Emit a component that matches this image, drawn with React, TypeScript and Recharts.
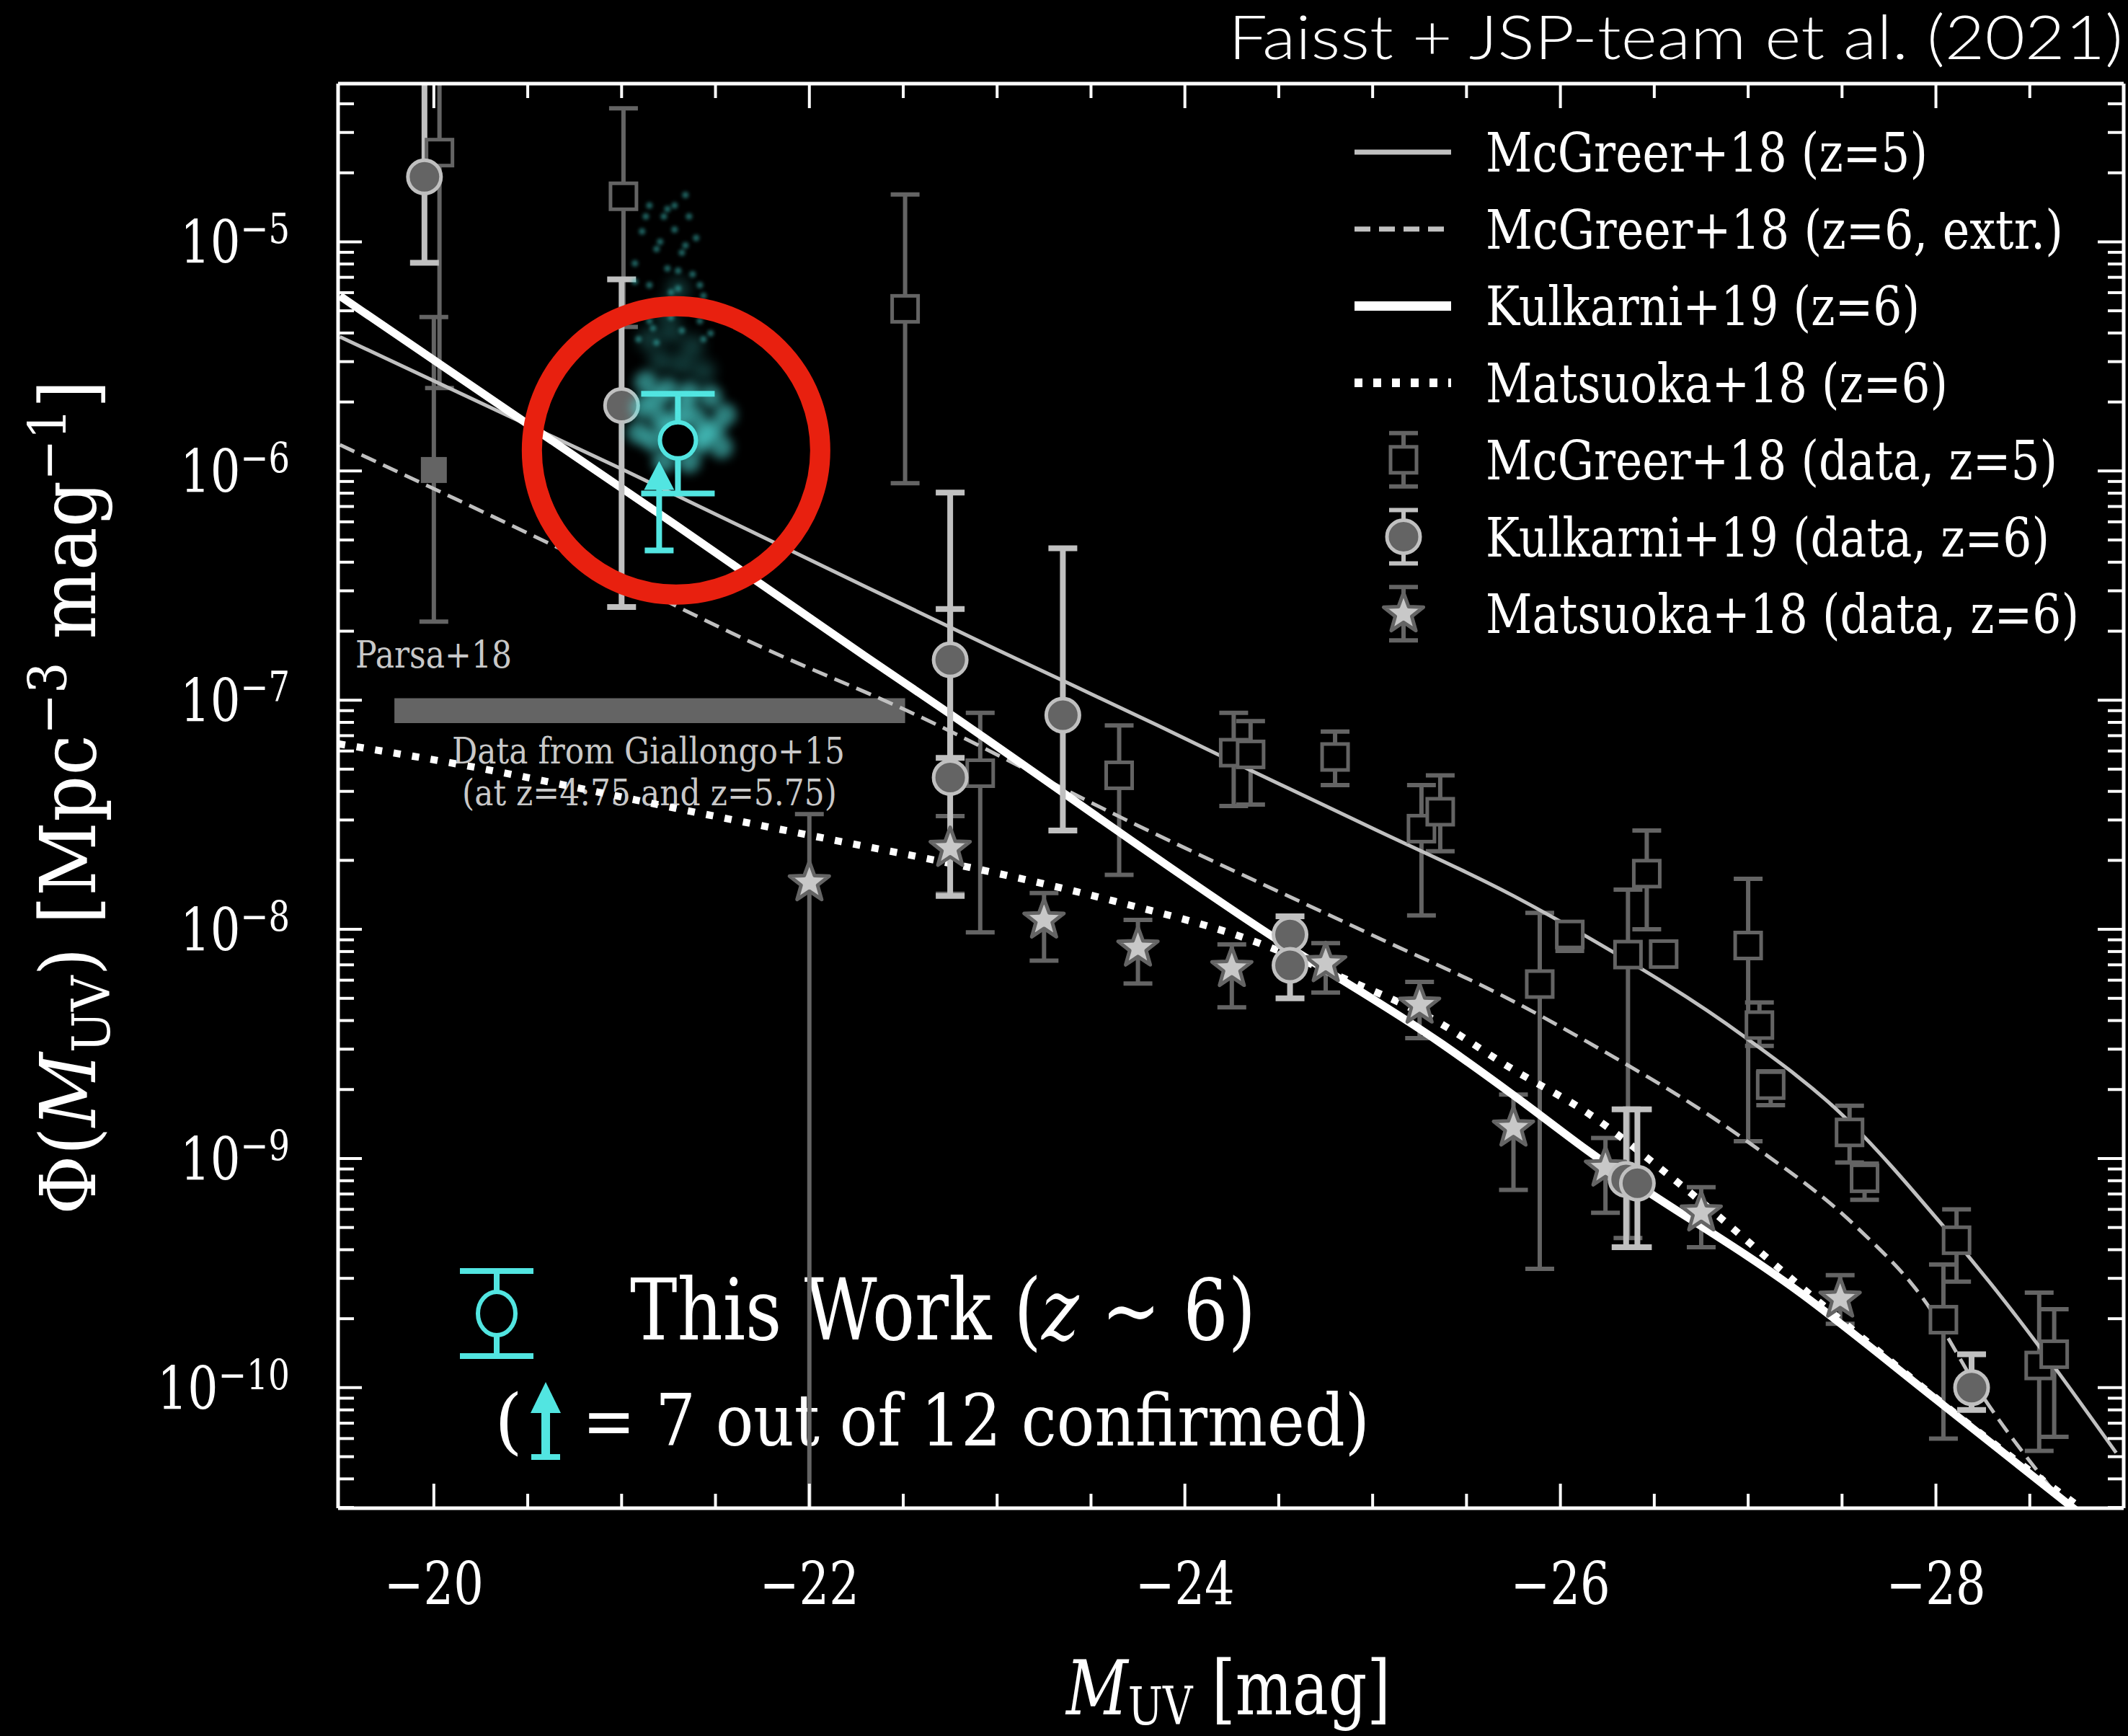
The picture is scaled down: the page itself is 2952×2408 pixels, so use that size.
import React from 'react';
import {
  ComposedChart,
  Line,
  Scatter,
  XAxis,
  YAxis,
  ErrorBar,
  ReferenceArea,
  ReferenceDot,
  Customized,
} from 'recharts';

const W = 2952;
const H = 2408;
const SERIF = "'DejaVu Serif', serif";

const DARK = '#646464';
const LIGHT = '#c0c0c0';
const STAR_FILL = '#c8c8c8';
const CYAN = '#52e5e1';
const SPECK = '#3cbcb8';
const RED = '#e8200f';

// plot box in page pixels (used for the error-bar clip and axis boxes)
const PLOT = { left: 469, top: 116, right: 2946, bottom: 2092 };

const X_DOMAIN: [number, number] = [-29, -19.49];
const Y_DOMAIN: [number, number] = [2.98e-11, 4.9e-5];

const xMajorTicks = [-20, -22, -24, -26, -28];
const yMajorTicks = [1e-10, 1e-9, 1e-8, 1e-7, 1e-6, 1e-5];

// minor ticks every 0.5 mag and at 2..9 inside each decade
const xTicks: number[] = [];
for (let v = -20; v >= -28.5; v -= 0.5) xTicks.push(v);
const yTicks: number[] = [];
for (let e = -11; e <= -5; e++) {
  for (let k = 1; k <= 9; k++) {
    const v = k * Math.pow(10, e);
    if (v >= Y_DOMAIN[0] && v <= Y_DOMAIN[1]) yTicks.push(v);
  }
}

// ---- model luminosity functions ----
const mcgreerZ5M = [-19.5, -21.0, -22.1, -23.0, -23.85, -24.36, -25.0, -25.75, -26.14, -26.98, -27.48, -28.04, -28.33, -28.96];
const mcgreerZ5Phi = [3.85e-6, 1.02e-6, 3.75e-7, 1.66e-7, 7.8e-8, 4.9e-8, 2.76e-8, 1.4e-8, 9.3e-9, 3.4e-9, 1.61e-9, 5.06e-10, 2.6e-10, 5.2e-11];

const mcgreerZ6M = [-19.5, -20.61, -21.77, -22.52, -23.67, -24.99, -25.75, -26.14, -27.0, -27.58, -27.93, -28.26, -28.63];
const mcgreerZ6Phi = [1.3e-6, 4.85e-7, 1.67e-7, 9.0e-8, 3.05e-8, 9.5e-9, 4.85e-9, 3.24e-9, 1.18e-9, 5.0e-10, 2.46e-10, 8.9e-11, 3.5e-11];

const kulkarniM = [-19.5, -21.29, -22.3, -22.69, -24.45, -25.37, -25.75, -26.14, -27.29, -28.0, -28.75];
const kulkarniPhi = [5.8e-6, 5.8e-7, 1.55e-7, 9.4e-8, 9.5e-9, 3.16e-9, 1.89e-9, 1.09e-9, 2.55e-10, 8.9e-11, 2.9e-11];

const matsuokaM = [-19.49, -20.05, -21.46, -22.3, -22.61, -23.62, -24.33, -24.87, -25.31, -25.75, -26.14, -26.59, -27.33, -28.4, -28.82];
const matsuokaPhi = [6.45e-8, 5.4e-8, 3.16e-8, 2.3e-8, 2.05e-8, 1.33e-8, 9.1e-9, 6.0e-9, 4.1e-9, 2.44e-9, 1.59e-9, 8.3e-10, 2.55e-10, 5.0e-11, 2.8e-11];

// ---- binned data (value, lower and upper end of the error bar) ----
const mcgreerDataM = [-20.03, -21.01, -22.51, -22.91, -23.65, -24.26, -24.35, -24.8, -25.26, -25.36, -25.89, -26.05, -26.36, -26.46, -26.55, -27.0, -27.06, -27.12, -27.54, -27.62, -28.11, -28.04, -28.55, -28.63];
const mcgreerDataPhi = [2.45e-5, 1.58e-5, 5.1e-6, 4.8e-8, 4.7e-8, 5.9e-8, 5.8e-8, 5.65e-8, 2.75e-8, 3.26e-8, 5.77e-9, 9.5e-9, 7.76e-9, 1.75e-8, 7.8e-9, 8.5e-9, 3.82e-9, 2.09e-9, 1.3e-9, 8.2e-10, 4.4e-10, 1.98e-10, 1.25e-10, 1.4e-10];
const mcgreerDataLo = [2.3e-6, 4.25e-6, 8.85e-7, 9.7e-9, 1.73e-8, 3.45e-8, 3.5e-8, 4.26e-8, 1.15e-8, 2.19e-8, 3.3e-10, 8.05e-9, 4.5e-10, 1.0e-8, 7.0e-9, 1.19e-9, 3.1e-9, 1.71e-9, 9.6e-10, 6.6e-10, 2.9e-10, 6.0e-11, 5.3e-11, 6.1e-11];
const mcgreerDataHi = [1e-4, 3.82e-5, 1.61e-5, 8.8e-8, 7.76e-8, 8.8e-8, 8.1e-8, 7.3e-8, 4.26e-8, 4.7e-8, 1.18e-8, 1.05e-8, 1.49e-8, 2.7e-8, 8.8e-9, 1.66e-8, 4.8e-9, 2.4e-9, 1.7e-9, 9.5e-10, 6.0e-10, 3.45e-10, 2.6e-10, 2.2e-10];

const giallongoM = [-20.0];
const giallongoPhi = [1.01e-6];
const giallongoLo = [2.2e-7];
const giallongoHi = [4.7e-6];

const kulkarniDataM = [-19.95, -21.0, -22.75, -22.75, -23.35, -24.56, -24.56, -26.35, -26.41, -28.19];
const kulkarniDataPhi = [1.92e-5, 1.93e-6, 1.5e-7, 4.6e-8, 8.6e-8, 9.5e-9, 6.97e-9, 8.1e-10, 7.8e-10, 1.0e-10];
const kulkarniDataLo = [8.1e-6, 2.55e-7, 5.6e-8, 1.4e-8, 2.7e-8, 7.5e-9, 5.0e-9, 4.1e-10, 4.1e-10, 8e-11];
const kulkarniDataHi = [1e-4, 6.86e-6, 8.05e-7, 2.5e-7, 4.6e-7, 1.14e-8, 9.0e-9, 1.64e-9, 1.64e-9, 1.4e-10];

const matsuokaDataM = [-22.0, -22.75, -23.25, -23.75, -24.25, -24.75, -25.25, -25.75, -26.24, -26.75, -27.49];
const matsuokaDataPhi = [1.6e-8, 2.26e-8, 1.1e-8, 8.3e-9, 6.76e-9, 7.1e-9, 4.68e-9, 1.36e-9, 9.1e-10, 5.8e-10, 2.44e-10];
const matsuokaDataLo = [1e-12, 1.43e-8, 7.3e-9, 5.8e-9, 4.57e-9, 5.3e-9, 3.35e-9, 7.3e-10, 5.8e-10, 4.1e-10, 1.9e-10];
const matsuokaDataHi = [3.18e-8, 3.12e-8, 1.44e-8, 1.1e-8, 8.6e-9, 8.7e-9, 5.9e-9, 1.9e-9, 1.23e-9, 7.5e-10, 3.1e-10];

// this work
const thisWorkM = [-21.3];
const thisWorkPhi = [1.36e-6];
const thisWorkLo = [7.98e-7];
const thisWorkHi = [2.17e-6];
const limitM = [-21.2];
const limitPhi = [4.5e-7];

// posterior samples around this work's bin: sparse plume, faint haze, dense core
const cloudSpeckM = [
  -21.148, -21.244, -21.359, -21.109, -21.282, -21.397, -21.186, -21.321, -21.071, -21.244, -21.378, -21.148,
  -21.301, -21.436, -21.205, -21.359, -21.109, -21.263, -21.417, -21.167, -21.321, -21.474, -21.225, -21.34,
  -21.129, -21.282, -21.205, -21.34, -21.071, -21.263, -21.378, -21.148, -21.301, -21.417, -21.186, -21.436, -21.09,
];
const cloudSpeckPhi = [
  1.44e-5, 1.39e-5, 1.29e-5, 1.11e-5, 1.13e-5, 1.04e-5, 9.3e-6, 8.97e-6, 8.05e-6, 7.65e-6, 7.22e-6, 6.47e-6,
  6.25e-6, 5.81e-6, 5.41e-6, 5.21e-6, 4.85e-6, 4.68e-6, 4.51e-6, 4.2e-6, 4.1e-6, 3.99e-6, 1.29e-5, 1.6e-5,
  1.29e-5, 1.44e-5, 1.0e-5, 9.64e-6, 6.71e-6, 6.02e-6, 5.03e-6, 4.51e-6, 7.48e-6, 6.47e-6, 3.63e-6, 3.76e-6, 3.76e-6,
];
const cloudHazeM = [-21.148, -21.263, -21.378, -21.205, -21.32, -21.436, -21.24, -21.3];
const cloudHazePhi = [3.76e-6, 4.04e-6, 3.5e-6, 3.03e-6, 2.92e-6, 2.72e-6, 5.0e-6, 6.2e-6];
const cloudCoreM = [-21.129, -21.244, -21.359, -21.474, -21.551, -21.11, -21.205, -21.3, -21.397, -21.493, -21.167, -21.282, -21.417, -21.532, -21.225, -21.359, -21.09, -21.25, -21.44, -21.33, -21.18];
const cloudCorePhi = [2.44e-6, 2.27e-6, 2.19e-6, 2.11e-6, 1.76e-6, 1.89e-6, 1.7e-6, 1.64e-6, 1.7e-6, 1.52e-6, 1.36e-6, 1.32e-6, 1.32e-6, 1.27e-6, 1.1e-6, 1.1e-6, 1.47e-6, 1.5e-6, 1.45e-6, 1.9e-6, 2.05e-6];

// Parsa+18 band and highlighted bin
const parsaM = [-19.79, -22.51];
const parsaPhi = [7.94e-8, 1.02e-7];
const ringM = -21.29;
const ringPhi = 1.23e-6;

const legendLabels = [
  'McGreer+18 (z=5)',
  'McGreer+18 (z=6, extr.)',
  'Kulkarni+19 (z=6)',
  'Matsuoka+18 (z=6)',
  'McGreer+18 (data, z=5)',
  'Kulkarni+19 (data, z=6)',
  'Matsuoka+18 (data, z=6)',
];
const legendTextWidths = [613, 801, 602, 641, 793, 782, 823];

const toRows = (m: number[], phi: number[]) => m.map((v, i) => ({ m: v, phi: phi[i] }));
const toErrRows = (m: number[], phi: number[], lo: number[], hi: number[]) =>
  m.map((v, i) => ({ m: v, phi: phi[i], err: [phi[i] - lo[i], hi[i] - phi[i]] }));

const starPoints = (cx: number, cy: number, R: number, r: number) => {
  const pts: string[] = [];
  for (let i = 0; i < 10; i++) {
    const rad = i % 2 === 0 ? R : r;
    const a = -Math.PI / 2 + (i * Math.PI) / 5;
    pts.push(`${cx + rad * Math.cos(a)},${cy + rad * Math.sin(a)}`);
  }
  return pts.join(' ');
};

const OpenSquare = ({ cx, cy }: any) => (
  <rect x={cx - 18} y={cy - 18} width={36} height={36} fill="#000" stroke={DARK} strokeWidth={5} />
);
const FilledSquare = ({ cx, cy }: any) => <rect x={cx - 18} y={cy - 18} width={36} height={36} fill={DARK} />;
const GrayCircle = ({ cx, cy }: any) => <circle cx={cx} cy={cy} r={23} fill={DARK} stroke={LIGHT} strokeWidth={5} />;
const Star = ({ cx, cy }: any) => (
  <polygon points={starPoints(cx, cy, 29, 12)} fill={STAR_FILL} stroke={DARK} strokeWidth={5} strokeLinejoin="round" />
);
const OpenCyan = ({ cx, cy }: any) => <circle cx={cx} cy={cy} r={25} fill="#000" stroke={CYAN} strokeWidth={6} />;
const UpArrow = ({ cx, cy }: any) => (
  <g fill={CYAN} stroke={CYAN}>
    <line x1={cx - 20} x2={cx + 20} y1={cy} y2={cy} strokeWidth={8} />
    <line x1={cx} x2={cx} y1={cy} y2={cy - 86} strokeWidth={8} />
    <polygon points={`${cx - 21},${cy - 84} ${cx + 21},${cy - 84} ${cx},${cy - 124}`} stroke="none" />
  </g>
);
const CloudSpeck = ({ cx, cy }: any) => (
  <circle cx={cx} cy={cy} r={4.5} fill={SPECK} opacity={0.55} style={{ filter: 'blur(2.5px)' }} />
);
const CloudHaze = ({ cx, cy }: any) => (
  <circle cx={cx} cy={cy} r={16} fill={SPECK} opacity={0.3} style={{ filter: 'blur(9px)' }} />
);
const CloudBlob = ({ cx, cy }: any) => (
  <circle cx={cx} cy={cy} r={16} fill={CYAN} opacity={0.55} style={{ filter: 'blur(7px)' }} />
);

const isMajorY = (v: number) => Math.abs(Math.log10(v) - Math.round(Math.log10(v))) < 1e-6;

const BottomTick = ({ x, y, payload }: any) => {
  const v = payload.value;
  const major = xMajorTicks.includes(v);
  return (
    <g>
      <line x1={x} x2={x} y1={y} y2={y - (major ? 34 : 20)} stroke="#fff" strokeWidth={4} />
      {major && (
        <text x={x} y={y + 134} textAnchor="middle" fill="#fff" fontFamily={SERIF} fontSize={82}
          textLength={138} lengthAdjust="spacingAndGlyphs">
          {'\u2212' + Math.abs(v)}
        </text>
      )}
    </g>
  );
};

const TopTick = ({ x, y, payload }: any) => {
  const major = xMajorTicks.includes(payload.value);
  return <line x1={x} x2={x} y1={y} y2={y + (major ? 34 : 20)} stroke="#fff" strokeWidth={4} />;
};

const LeftTick = ({ x, y, payload }: any) => {
  const v = payload.value;
  const e = Math.round(Math.log10(v));
  const major = isMajorY(v);
  return (
    <g>
      <line x1={x} x2={x + (major ? 33 : 22)} y1={y} y2={y} stroke="#fff" strokeWidth={4} />
      {major && (
        <text x={x - 67} y={y + 30} textAnchor="end" fill="#fff" fontFamily={SERIF} fontSize={82}
          textLength={e <= -10 ? 184 : 152} lengthAdjust="spacingAndGlyphs">
          10
          <tspan dy={-28} fontSize={58}>{'\u2212' + Math.abs(e)}</tspan>
        </text>
      )}
    </g>
  );
};

const RightTick = ({ x, y, payload }: any) => {
  const major = isMajorY(payload.value);
  return <line x1={x} x2={x - (major ? 36 : 22)} y1={y} y2={y} stroke="#fff" strokeWidth={4} />;
};

const LEGEND_Y0 = 211;
const LEGEND_STEP = 106.7;

const LegendSample = ({ i, y }: { i: number; y: number }) => {
  const x0 = 1879;
  const x1 = 2013;
  const xc = 1947;
  if (i === 0) return <line x1={x0} x2={x1} y1={y} y2={y} stroke={LIGHT} strokeWidth={7} />;
  if (i === 1) return <line x1={x0} x2={x1} y1={y} y2={y} stroke={LIGHT} strokeWidth={7} strokeDasharray="22 12" />;
  if (i === 2) return <line x1={x0} x2={x1} y1={y} y2={y} stroke="#fff" strokeWidth={13} />;
  if (i === 3) return <line x1={x0} x2={x1} y1={y} y2={y} stroke="#fff" strokeWidth={12} strokeDasharray="11 15" />;
  const errColor = i === 5 ? LIGHT : DARK;
  return (
    <g>
      <line x1={xc} x2={xc} y1={y - 37} y2={y + 37} stroke={errColor} strokeWidth={6} />
      <line x1={xc - 20} x2={xc + 20} y1={y - 37} y2={y - 37} stroke={errColor} strokeWidth={6} />
      <line x1={xc - 20} x2={xc + 20} y1={y + 37} y2={y + 37} stroke={errColor} strokeWidth={6} />
      {i === 4 && <OpenSquare cx={xc} cy={y} />}
      {i === 5 && <GrayCircle cx={xc} cy={y} />}
      {i === 6 && <Star cx={xc} cy={y} />}
    </g>
  );
};

const Overlay = () => (
  <g>
    <defs>
      <clipPath id="plotClip" clipPathUnits="userSpaceOnUse">
        <rect x={PLOT.left} y={PLOT.top} width={PLOT.right - PLOT.left} height={PLOT.bottom - PLOT.top} />
      </clipPath>
    </defs>

    {/* credit line */}
    <text x={2945} y={82} textAnchor="end" fill="#fff" fontFamily="Lato, sans-serif" fontWeight={300}
      fontSize={84} textLength={1241} lengthAdjust="spacingAndGlyphs">
      Faisst + JSP-team et al. (2021)
    </text>

    {/* axis titles */}
    <text x={1704} y={2378} textAnchor="middle" fill="#fff" fontFamily={SERIF} fontSize={105}
      textLength={450} lengthAdjust="spacingAndGlyphs">
      <tspan fontStyle="italic">M</tspan>
      <tspan fontSize={72} dy={14}>UV</tspan>
      <tspan dy={-14}> [mag]</tspan>
    </text>
    <text x={132} y={1106} transform="rotate(-90 132 1106)" textAnchor="middle" fill="#fff" fontFamily={SERIF}
      fontSize={106} textLength={1158} lengthAdjust="spacingAndGlyphs">
      {'\u03A6('}
      <tspan fontStyle="italic">M</tspan>
      <tspan fontSize={72} dy={20}>UV</tspan>
      <tspan dy={-20}>{') [Mpc'}</tspan>
      <tspan fontSize={72} dy={-40}>{'\u22123'}</tspan>
      <tspan dy={40}> mag</tspan>
      <tspan fontSize={72} dy={-40}>{'\u22121'}</tspan>
      <tspan dy={40}>]</tspan>
    </text>

    {/* Parsa+18 / Giallongo+15 notes */}
    <g fill={STAR_FILL} fontFamily={SERIF}>
      <text x={493} y={926} fontSize={52} textLength={217} lengthAdjust="spacingAndGlyphs">Parsa+18</text>
      <text x={627} y={1059} fontSize={50} textLength={545} lengthAdjust="spacingAndGlyphs">Data from Giallongo+15</text>
      <text x={641} y={1117} fontSize={50} textLength={520} lengthAdjust="spacingAndGlyphs">(at z=4:75 and z=5.75)</text>
    </g>

    {/* legend, upper right */}
    {legendLabels.map((label, i) => {
      const y = LEGEND_Y0 + i * LEGEND_STEP;
      return (
        <g key={label}>
          <LegendSample i={i} y={y} />
          <text x={2061} y={y + 27} fill="#fff" fontFamily={SERIF} fontSize={74}
            textLength={legendTextWidths[i]} lengthAdjust="spacingAndGlyphs">
            {label}
          </text>
        </g>
      );
    })}

    {/* this work key, lower left */}
    <g>
      <line x1={689} x2={689} y1={1763} y2={1881} stroke={CYAN} strokeWidth={8} />
      <line x1={638} x2={740} y1={1763} y2={1763} stroke={CYAN} strokeWidth={8} />
      <line x1={638} x2={740} y1={1881} y2={1881} stroke={CYAN} strokeWidth={8} />
      <ellipse cx={689} cy={1822} rx={26} ry={30} fill="#000" stroke={CYAN} strokeWidth={6} />
      <text x={874} y={1858} fill="#fff" fontFamily={SERIF} fontSize={118} textLength={868} lengthAdjust="spacingAndGlyphs">
        {'This Work ('}
        <tspan fontStyle="italic">z</tspan>
        {' ~ 6)'}
      </text>
      <text x={686} y={2005} fill="#fff" fontFamily={SERIF} fontSize={100}>(</text>
      <line x1={757} x2={757} y1={1955} y2={2023} stroke={CYAN} strokeWidth={12} />
      <line x1={737} x2={777} y1={2021} y2={2021} stroke={CYAN} strokeWidth={8} />
      <polygon points="736,1960 778,1960 757,1917" fill={CYAN} />
      <text x={808} y={2005} fill="#fff" fontFamily={SERIF} fontSize={100} textLength={1092} lengthAdjust="spacingAndGlyphs">
        = 7 out of 12 confirmed)
      </text>
    </g>
  </g>
);

const axisLine = { stroke: '#fff', strokeWidth: 5 };

export default function App() {
  return (
    <div style={{ width: W, height: H, background: '#000' }}>
      <style>{`
        body { margin: 0; background: #000; }
        .recharts-errorBars, .recharts-errorBar, .recharts-line { clip-path: url(#plotClip); }
      `}</style>
      <ComposedChart width={W} height={H}
        margin={{ top: PLOT.top - 1, right: W - PLOT.right - 1, bottom: H - PLOT.bottom - 1, left: PLOT.left - 1 }}>
        <XAxis xAxisId="b" dataKey="m" type="number" domain={X_DOMAIN} reversed allowDataOverflow
          ticks={xTicks} interval={0} height={1} tickSize={0} tickMargin={0} tickLine={false}
          axisLine={axisLine} tick={(p: any) => <BottomTick {...p} />} />
        <XAxis xAxisId="t" orientation="top" dataKey="m" type="number" domain={X_DOMAIN} reversed allowDataOverflow
          ticks={xTicks} interval={0} height={1} tickSize={0} tickMargin={0} tickLine={false}
          axisLine={axisLine} tick={(p: any) => <TopTick {...p} />} />
        <YAxis yAxisId="l" dataKey="phi" type="number" scale="log" domain={Y_DOMAIN} allowDataOverflow
          ticks={yTicks} interval={0} width={1} tickSize={0} tickMargin={0} tickLine={false}
          axisLine={axisLine} tick={(p: any) => <LeftTick {...p} />} />
        <YAxis yAxisId="r" orientation="right" dataKey="phi" type="number" scale="log" domain={Y_DOMAIN} allowDataOverflow
          ticks={yTicks} interval={0} width={1} tickSize={0} tickMargin={0} tickLine={false}
          axisLine={axisLine} tick={(p: any) => <RightTick {...p} />} />

        <ReferenceArea xAxisId="b" yAxisId="l" x1={parsaM[0]} x2={parsaM[1]} y1={parsaPhi[0]} y2={parsaPhi[1]}
          fill={DARK} fillOpacity={1} stroke="none" />

        <Scatter xAxisId="b" yAxisId="l" data={toErrRows(mcgreerDataM, mcgreerDataPhi, mcgreerDataLo, mcgreerDataHi)}
          shape={(p: any) => <OpenSquare {...p} />} isAnimationActive={false}>
          <ErrorBar dataKey="err" direction="y" width={20} stroke={DARK} strokeWidth={6} isAnimationActive={false} />
        </Scatter>
        <Scatter xAxisId="b" yAxisId="l" data={toErrRows(giallongoM, giallongoPhi, giallongoLo, giallongoHi)}
          shape={(p: any) => <FilledSquare {...p} />} isAnimationActive={false}>
          <ErrorBar dataKey="err" direction="y" width={20} stroke={DARK} strokeWidth={6} isAnimationActive={false} />
        </Scatter>
        <Scatter xAxisId="b" yAxisId="l" data={toErrRows(matsuokaDataM, matsuokaDataPhi, matsuokaDataLo, matsuokaDataHi)}
          shape={(p: any) => <Star {...p} />} isAnimationActive={false}>
          <ErrorBar dataKey="err" direction="y" width={20} stroke={DARK} strokeWidth={6} isAnimationActive={false} />
        </Scatter>

        <Line xAxisId="b" yAxisId="l" data={toRows(mcgreerZ5M, mcgreerZ5Phi)} dataKey="phi" type="monotone"
          stroke={LIGHT} strokeWidth={5} dot={false} activeDot={false} isAnimationActive={false} />
        <Line xAxisId="b" yAxisId="l" data={toRows(mcgreerZ6M, mcgreerZ6Phi)} dataKey="phi" type="monotone"
          stroke={LIGHT} strokeWidth={5} strokeDasharray="22 11" dot={false} activeDot={false} isAnimationActive={false} />
        <Line xAxisId="b" yAxisId="l" data={toRows(matsuokaM, matsuokaPhi)} dataKey="phi" type="monotone"
          stroke="#fff" strokeWidth={10} strokeDasharray="10 16" dot={false} activeDot={false} isAnimationActive={false} />
        <Line xAxisId="b" yAxisId="l" data={toRows(kulkarniM, kulkarniPhi)} dataKey="phi" type="monotone"
          stroke="#fff" strokeWidth={11} dot={false} activeDot={false} isAnimationActive={false} />

        <Scatter xAxisId="b" yAxisId="l" data={toErrRows(kulkarniDataM, kulkarniDataPhi, kulkarniDataLo, kulkarniDataHi)}
          shape={(p: any) => <GrayCircle {...p} />} isAnimationActive={false}>
          <ErrorBar dataKey="err" direction="y" width={20} stroke={LIGHT} strokeWidth={8} isAnimationActive={false} />
        </Scatter>

        <Scatter xAxisId="b" yAxisId="l" data={toRows(cloudSpeckM, cloudSpeckPhi)}
          shape={(p: any) => <CloudSpeck {...p} />} isAnimationActive={false} />
        <Scatter xAxisId="b" yAxisId="l" data={toRows(cloudHazeM, cloudHazePhi)}
          shape={(p: any) => <CloudHaze {...p} />} isAnimationActive={false} />
        <Scatter xAxisId="b" yAxisId="l" data={toRows(cloudCoreM, cloudCorePhi)}
          shape={(p: any) => <CloudBlob {...p} />} isAnimationActive={false} />

        <Scatter xAxisId="b" yAxisId="l" data={toErrRows(thisWorkM, thisWorkPhi, thisWorkLo, thisWorkHi)}
          shape={(p: any) => <OpenCyan {...p} />} isAnimationActive={false}>
          <ErrorBar dataKey="err" direction="y" width={51} stroke={CYAN} strokeWidth={8} isAnimationActive={false} />
        </Scatter>
        <Scatter xAxisId="b" yAxisId="l" data={toRows(limitM, limitPhi)}
          shape={(p: any) => <UpArrow {...p} />} isAnimationActive={false} />

        <ReferenceDot xAxisId="b" yAxisId="l" x={ringM} y={ringPhi} r={200} fill="none" stroke={RED} strokeWidth={28} />

        <Customized component={Overlay} />
      </ComposedChart>
    </div>
  );
}
